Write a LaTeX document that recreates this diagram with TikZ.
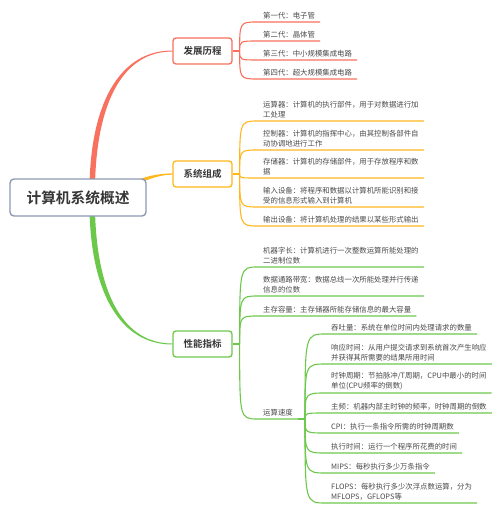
\documentclass[tikz,border=0pt]{standalone}
\usepackage{fontspec}
\setmainfont{Noto Sans CJK SC}[BoldFont={Noto Sans CJK SC Bold}]
\usepackage{xcolor}
\usepackage{tikz}
\usetikzlibrary{calc, backgrounds}

\definecolor{histred}{HTML}{F8705E}
\definecolor{partorange}{HTML}{FFB71B}
\definecolor{perfgreen}{HTML}{6CC84B}
\definecolor{rootgray}{HTML}{8D9AB3}
\definecolor{inkgray}{HTML}{363636}

\tikzset{
    rootbox/.style={draw=rootgray, line width=1.4pt, rounded corners=4pt, fill=white,
        minimum width=136pt, minimum height=37pt, text=inkgray,
        font=\fontsize{14.7}{16}\selectfont\bfseries},
    branchbox/.style={draw=#1, line width=1.3pt, rounded corners=3pt, fill=white,
        minimum width=59pt, minimum height=26pt, text=inkgray,
        font=\fontsize{9.5}{11}\selectfont\bfseries},
    leafnote/.style={anchor=south west, inner xsep=5pt, inner ysep=3pt, align=left,
        text=inkgray!90, font=\fontsize{7.4}{9.8}\selectfont},
    twigline/.style={draw=#1, line width=1.1pt},
}

\begin{document}
\begin{tikzpicture}[x=1pt, y=-1pt]
        \useasboundingbox (0,0) rectangle (500,513);

        \node[rootbox] (sys) at (78,197.5) {计算机系统概述};

        \node[branchbox=histred] (hist) at (202.5,51) {发展历程};
        \node[branchbox=partorange] (comp) at (202.5,174) {系统组成};
        \node[branchbox=perfgreen] (perf) at (202.5,344) {性能指标};

        \node[leafnote] (g1) at (258,22) {第一代：电子管};
        \node[leafnote] (g2) at (258,41) {第二代：晶体管};
        \node[leafnote] (g3) at (258,60) {第三代：中小规模集成电路};
        \node[leafnote] (g4) at (258,79) {第四代：超大规模集成电路};

        \node[leafnote] (c1) at (258,121) {运算器：计算机的执行部件，用于对数据进行加\\工处理};
        \node[leafnote] (c2) at (258,150) {控制器：计算机的指挥中心，由其控制各部件自\\动协调地进行工作};
        \node[leafnote] (c3) at (258,178) {存储器：计算机的存储部件，用于存放程序和数\\据};
        \node[leafnote] (c4) at (258,207) {输入设备：将程序和数据以计算机所能识别和接\\受的信息形式输入到计算机};
        \node[leafnote] (c5) at (258,226) {输出设备：将计算机处理的结果以某些形式输出};

        \node[leafnote] (p1) at (258,267) {机器字长：计算机进行一次整数运算所能处理的\\二进制位数};
        \node[leafnote] (p2) at (258,296) {数据通路带宽：数据总线一次所能处理并行传递\\信息的位数};
        \node[leafnote] (p3) at (258,316) {主存容量：主存储器所能存储信息的最大容量};
        \node[leafnote] (speed) at (258,419) {运算速度};

        \node[leafnote] (s1) at (326,334) {吞吐量：系统在单位时间内处理请求的数量};
        \node[leafnote] (s2) at (326,364) {响应时间：从用户提交请求到系统首次产生响应\\并获得其所需要的结果所用时间};
        \node[leafnote] (s3) at (326,393) {时钟周期：节拍脉冲/T周期，CPU中最小的时间\\单位(CPU频率的倒数)};
        \node[leafnote] (s4) at (326,413) {主频：机器内部主时钟的频率，时钟周期的倒数};
        \node[leafnote] (s5) at (326,433) {CPI：执行一条指令所需的时钟周期数};
        \node[leafnote] (s6) at (326,453) {执行时间：运行一个程序所花费的时间};
        \node[leafnote] (s7) at (326,473) {MIPS：每秒执行多少万条指令};
        \node[leafnote] (s8) at (326,503) {FLOPS：每秒执行多少次浮点数运算，分为\\MFLOPS，GFLOPS等};

        \begin{scope}[on background layer]
        \fill[histred] ($(sys.north)+(11.5,6)$) .. controls +(2,-86) and +(-50,0) .. ($(hist.west)+(0,-0.5)$)
            -- ($(hist.west)+(0,0.5)$) .. controls +(-48,0) and +(2,-85) .. ($(sys.north)+(17,6)$) -- cycle;
        \fill[partorange] ($(sys.east)+(-18,-12)$) .. controls +(12,-9) and +(-14,0) .. ($(comp.west)+(0,-0.6)$)
            -- ($(comp.west)+(0,0.6)$) .. controls +(-14,0) and +(12,-8) .. ($(sys.east)+(-18,-8)$) -- cycle;
        \fill[perfgreen] ($(sys.south)+(11.5,-6)$) .. controls +(2,86) and +(-50,0) .. ($(perf.west)+(0,0.5)$)
            -- ($(perf.west)+(0,-0.5)$) .. controls +(-48,0) and +(2,85) .. ($(sys.south)+(17,-6)$) -- cycle;
        \end{scope}

        \draw[twigline=histred] (hist.east) -- ++(7,0) coordinate (hj);
        \foreach \n in {g1,g2,g3,g4}
            \draw[twigline=histred] (hj) .. controls (hj |- \n.south west) .. (\n.south west) -- (\n.south east);

        \draw[twigline=partorange] (comp.east) -- ++(7,0) coordinate (cj);
        \foreach \n in {c1,c2,c3,c4,c5}
            \draw[twigline=partorange] (cj) .. controls (cj |- \n.south west) .. (\n.south west) -- (\n.south east);

        \draw[twigline=perfgreen] (perf.east) -- ++(7,0) coordinate (pj);
        \foreach \n in {p1,p2,p3,speed}
            \draw[twigline=perfgreen] (pj) .. controls (pj |- \n.south west) .. (\n.south west) -- (\n.south east);

        \draw[twigline=perfgreen] (speed.south east) -- ++(7,0) coordinate (sj);
        \foreach \n in {s1,s2,s3,s4,s5,s6,s7,s8}
            \draw[twigline=perfgreen] (sj) .. controls (sj |- \n.south west) .. (\n.south west) -- (\n.south east);

    \end{tikzpicture}
\end{document}
